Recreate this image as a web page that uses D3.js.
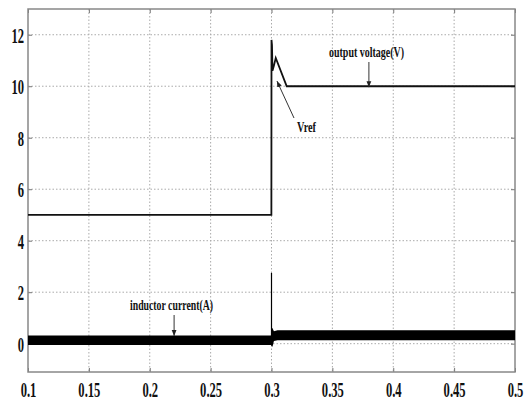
<!DOCTYPE html>
<html>
<head>
<script src="https://cdn.jsdelivr.net/npm/d3@7"></script>
<style>
  body { margin: 0; background: #fff; }
  .grid line { stroke: #aaa; stroke-dasharray: 1.5 2; stroke-width: 1; }
  .tick text { font-family: "Liberation Serif", serif; font-weight: bold; font-size: 21px; fill: #111; }
  .note { font-family: "Liberation Serif", serif; font-weight: bold; font-size: 14px; fill: #111; }
</style>
</head>
<body>
<script>
// axis ticks
var timeTicks = [0.1, 0.15, 0.2, 0.25, 0.3, 0.35, 0.4, 0.45, 0.5];
var voltTicks = [0, 2, 4, 6, 8, 10, 12];

// output voltage (V)
var voltT = [0.1, 0.2999, 0.3, 0.3004, 0.3008, 0.302, 0.3035, 0.3125, 0.5];
var voltV = [5, 5, 11.8, 11.6, 10.6, 10.8, 11.1, 10, 10];

// inductor current ripple band (min / max envelope)
var curT  = [0.1, 0.2995, 0.3002, 0.3008, 0.302, 0.305, 0.5];
var curHi = [0.32, 0.32, 0.62, 0.6, 0.48, 0.52, 0.52];
var curLo = [-0.05, -0.05, -0.1, -0.12, 0.1, 0.13, 0.13];
// current spike at the step
var spikeT = [0.3, 0.3];
var spikeV = [0.3, 2.75];

var width = 530, height = 402;
var m = {left: 28, right: 15, top: 9, bottom: 30};
var squeeze = 0.6;

var svg = d3.select("body").append("svg")
    .attr("width", width)
    .attr("height", height);

var x = d3.scaleLinear().domain([0.1, 0.5]).range([m.left, width - m.right]);
var y = d3.scaleLinear().domain([-1.1, 13]).range([height - m.bottom, m.top]);

// grid
svg.append("g").attr("class", "grid")
  .selectAll("line").data(timeTicks.slice(1, -1)).enter().append("line")
    .attr("x1", function(d) { return x(d); }).attr("x2", function(d) { return x(d); })
    .attr("y1", m.top).attr("y2", height - m.bottom);
svg.append("g").attr("class", "grid")
  .selectAll("line").data(voltTicks).enter().append("line")
    .attr("x1", m.left).attr("x2", width - m.right)
    .attr("y1", function(d) { return y(d); }).attr("y2", function(d) { return y(d); });

// axes, ticks point inward like matlab
var xAxis = svg.append("g").attr("transform", "translate(0," + (height - m.bottom) + ")")
    .call(d3.axisBottom(x).tickValues(timeTicks).tickSize(-4).tickPadding(10)
      .tickFormat(function(d) { return d3.format("")(+d.toFixed(2)); }));
var yAxis = svg.append("g").attr("transform", "translate(" + m.left + ",0)")
    .call(d3.axisLeft(y).tickValues(voltTicks).tickSize(-4).tickPadding(4));
svg.append("g").attr("transform", "translate(" + (width - m.right) + ",0)")
    .call(d3.axisRight(y).tickValues(voltTicks).tickSize(-4).tickFormat(""));
svg.append("g").attr("transform", "translate(0," + m.top + ")")
    .call(d3.axisTop(x).tickValues(timeTicks).tickSize(-4).tickFormat(""));
svg.selectAll(".domain").remove();
svg.selectAll(".tick line").attr("stroke", "#777");

// condensed labels, like the narrow bold font of the original
xAxis.selectAll(".tick text").attr("transform", "scale(" + squeeze + ",1)");
yAxis.selectAll(".tick text").attr("transform", "scale(" + squeeze + ",1)")
    .attr("x", -4 / squeeze).attr("dy", "0.36em");

svg.append("rect")
    .attr("x", m.left).attr("y", m.top)
    .attr("width", width - m.left - m.right).attr("height", height - m.top - m.bottom)
    .attr("fill", "none").attr("stroke", "#888").attr("stroke-width", 1.5);

// current band
var band = d3.area()
    .x(function(d, i) { return x(curT[i]); })
    .y0(function(d, i) { return y(curLo[i]); })
    .y1(function(d, i) { return y(curHi[i]); });
svg.append("path").datum(curT).attr("d", band).attr("fill", "#000");
svg.append("path").datum(spikeT)
    .attr("d", d3.line().x(function(d) { return x(d); }).y(function(d, i) { return y(spikeV[i]); }))
    .attr("stroke", "#000").attr("stroke-width", 1.2).attr("fill", "none");

// voltage trace
svg.append("path").datum(voltT)
    .attr("d", d3.line().x(function(d) { return x(d); }).y(function(d, i) { return y(voltV[i]); }))
    .attr("stroke", "#111").attr("stroke-width", 1.8).attr("fill", "none");

// annotations
svg.append("defs").append("marker")
    .attr("id", "ah").attr("viewBox", "0 0 10 10").attr("refX", 10).attr("refY", 5)
    .attr("markerWidth", 6).attr("markerHeight", 6).attr("orient", "auto")
  .append("path").attr("d", "M0,1 L10,5 L0,9 Z").attr("fill", "#222");

function note(txt, tx, ty, w) {
  svg.append("text").attr("class", "note").attr("x", tx).attr("y", ty)
    .attr("textLength", w).attr("lengthAdjust", "spacingAndGlyphs").text(txt);
}
function arrow(x1, y1, x2, y2) {
  svg.append("line").attr("x1", x1).attr("y1", y1).attr("x2", x2).attr("y2", y2)
    .attr("stroke", "#333").attr("stroke-width", 1).attr("marker-end", "url(#ah)");
}
note("output voltage(V)", 329, 57, 75);
arrow(x(0.38), 62, x(0.38), y(10) + 1);
note("Vref", 297, 132, 19);
arrow(294, 118, x(0.3045), y(10.2));
note("inductor current(A)", 130, 310, 83);
arrow(x(0.22), 315, x(0.22), y(0.3));
</script>
</body>
</html>
